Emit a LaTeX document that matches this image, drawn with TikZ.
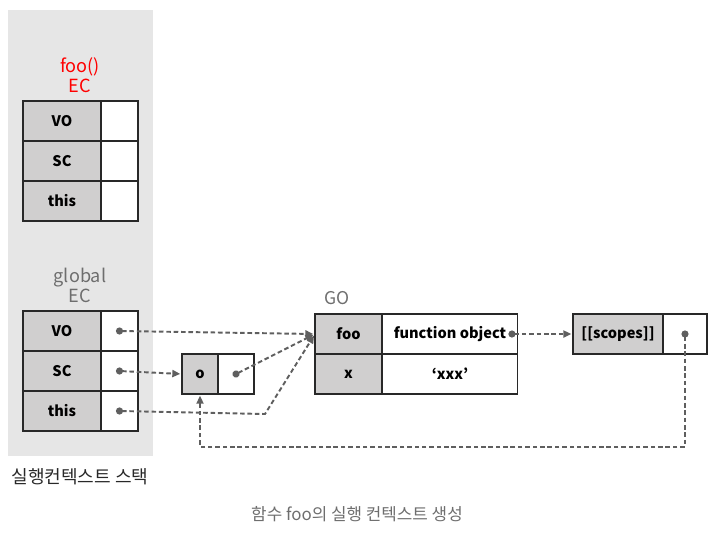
\documentclass[tikz,border=0pt]{standalone}
\usepackage{fontspec}
\setmainfont{Noto Sans CJK KR}
\usepackage{xcolor}
\usepackage{tikz}
\usetikzlibrary{arrows.meta,positioning,calc}
\definecolor{stackgray}{RGB}{230,230,230}
\definecolor{keygray}  {RGB}{208,207,207}
\definecolor{linegray} {RGB}{40,40,40}
\definecolor{ptrgray}  {RGB}{95,95,95}
\definecolor{titlegray}{RGB}{110,110,110}
\tikzset{
  cell/.style   ={draw=linegray, line width=0.6pt, outer sep=0pt, inner sep=0pt,
                  minimum height=0.8cm, font=\fontsize{8.3}{10}\selectfont\bfseries},
  keycell/.style={cell, fill=keygray, minimum width=#1},
  keycell/.default=1.56cm,
  valcell/.style={cell, fill=white, minimum width=#1},
  valcell/.default=0.74cm,
  ectitle/.style={align=center, font=\fontsize{10.3}{11.3}\selectfont},
  ptr/.style    ={{Circle[length=4pt]}-{Triangle[length=4.5pt,width=4pt]}, ptrgray,
                  line width=1.1pt, dash pattern=on 2.6pt off 1.6pt,
                  shorten <=-2pt, shorten >=1pt},
}

\begin{document}
\begin{tikzpicture}[x=0.02cm,y=-0.02cm]
  \useasboundingbox (0,0) rectangle (715,535);
  \fill[stackgray] (8,10) rectangle (153,456);
  % foo() EC
  \node[ectitle, text=red] (fectitle) at (80,75) {foo()\\EC};
  \node[keycell, anchor=north west] (fvo) at (23,101) {VO};
  \node[keycell, below=0pt of fvo] (fsc) {SC};
  \node[keycell, below=0pt of fsc] (fthis) {this};
  \node[valcell, right=0pt of fvo] (fvov) {};
  \node[valcell, right=0pt of fsc] (fscv) {};
  \node[valcell, right=0pt of fthis] (fthisv) {};
  % global EC
  \node[ectitle, text=titlegray] (gectitle) at (80,285) {global\\EC};
  \node[keycell, anchor=north west] (gvo) at (23,311) {VO};
  \node[keycell, below=0pt of gvo] (gsc) {SC};
  \node[keycell, below=0pt of gsc] (gthis) {this};
  \node[valcell, right=0pt of gvo] (gvov) {};
  \node[valcell, right=0pt of gsc] (gscv) {};
  \node[valcell, right=0pt of gthis] (gthisv) {};
  \node[font=\fontsize{10.3}{12}\selectfont, text=linegray] (stack) at (80,477) {실행컨텍스트 스택};
  % o
  \node[keycell=0.72cm, anchor=north west] (ok) at (182,354) {o};
  \node[valcell=0.72cm, right=0pt of ok] (ov) {};
  % GO
  \node[font=\fontsize{10}{12}\selectfont, text=titlegray] (gotitle) at (337,298) {GO};
  \node[keycell=1.34cm, anchor=north west] (gofoo) at (315,314) {foo};
  \node[keycell=1.34cm, below=0pt of gofoo] (gox) {x};
  \node[valcell=2.72cm, right=0pt of gofoo] (gofoov) {function object};
  \node[valcell=2.72cm, right=0pt of gox] (goxv) {‘xxx’};
  % [[scopes]]
  \node[keycell=1.8cm, anchor=north west] (sck) at (573,314) {[[scopes]]};
  \node[valcell=0.88cm, right=0pt of sck] (scv) {};
  \coordinate (bend) at (265,414);
  \coordinate (low) at (0,447);
  \draw[ptr] (gvov.center) -- (gofoo.west);
  \draw[ptr] (gscv.center) -- (ok.west);
  \draw[ptr] (ov.center) -- (gofoo.west);
  \draw[ptr] (gthisv.center) -- (bend) -- (gofoo.west);
  \draw[ptr] ([xshift=-0.12cm]gofoov.east) -- (sck.west);
  \draw[ptr] (scv.center) -- (scv.center |- low) -| (ok.south);
  \node[font=\fontsize{9.6}{11}\selectfont, text=titlegray] (caption) at (357,514) {함수 foo의 실행 컨텍스트 생성};
\end{tikzpicture}
\end{document}
